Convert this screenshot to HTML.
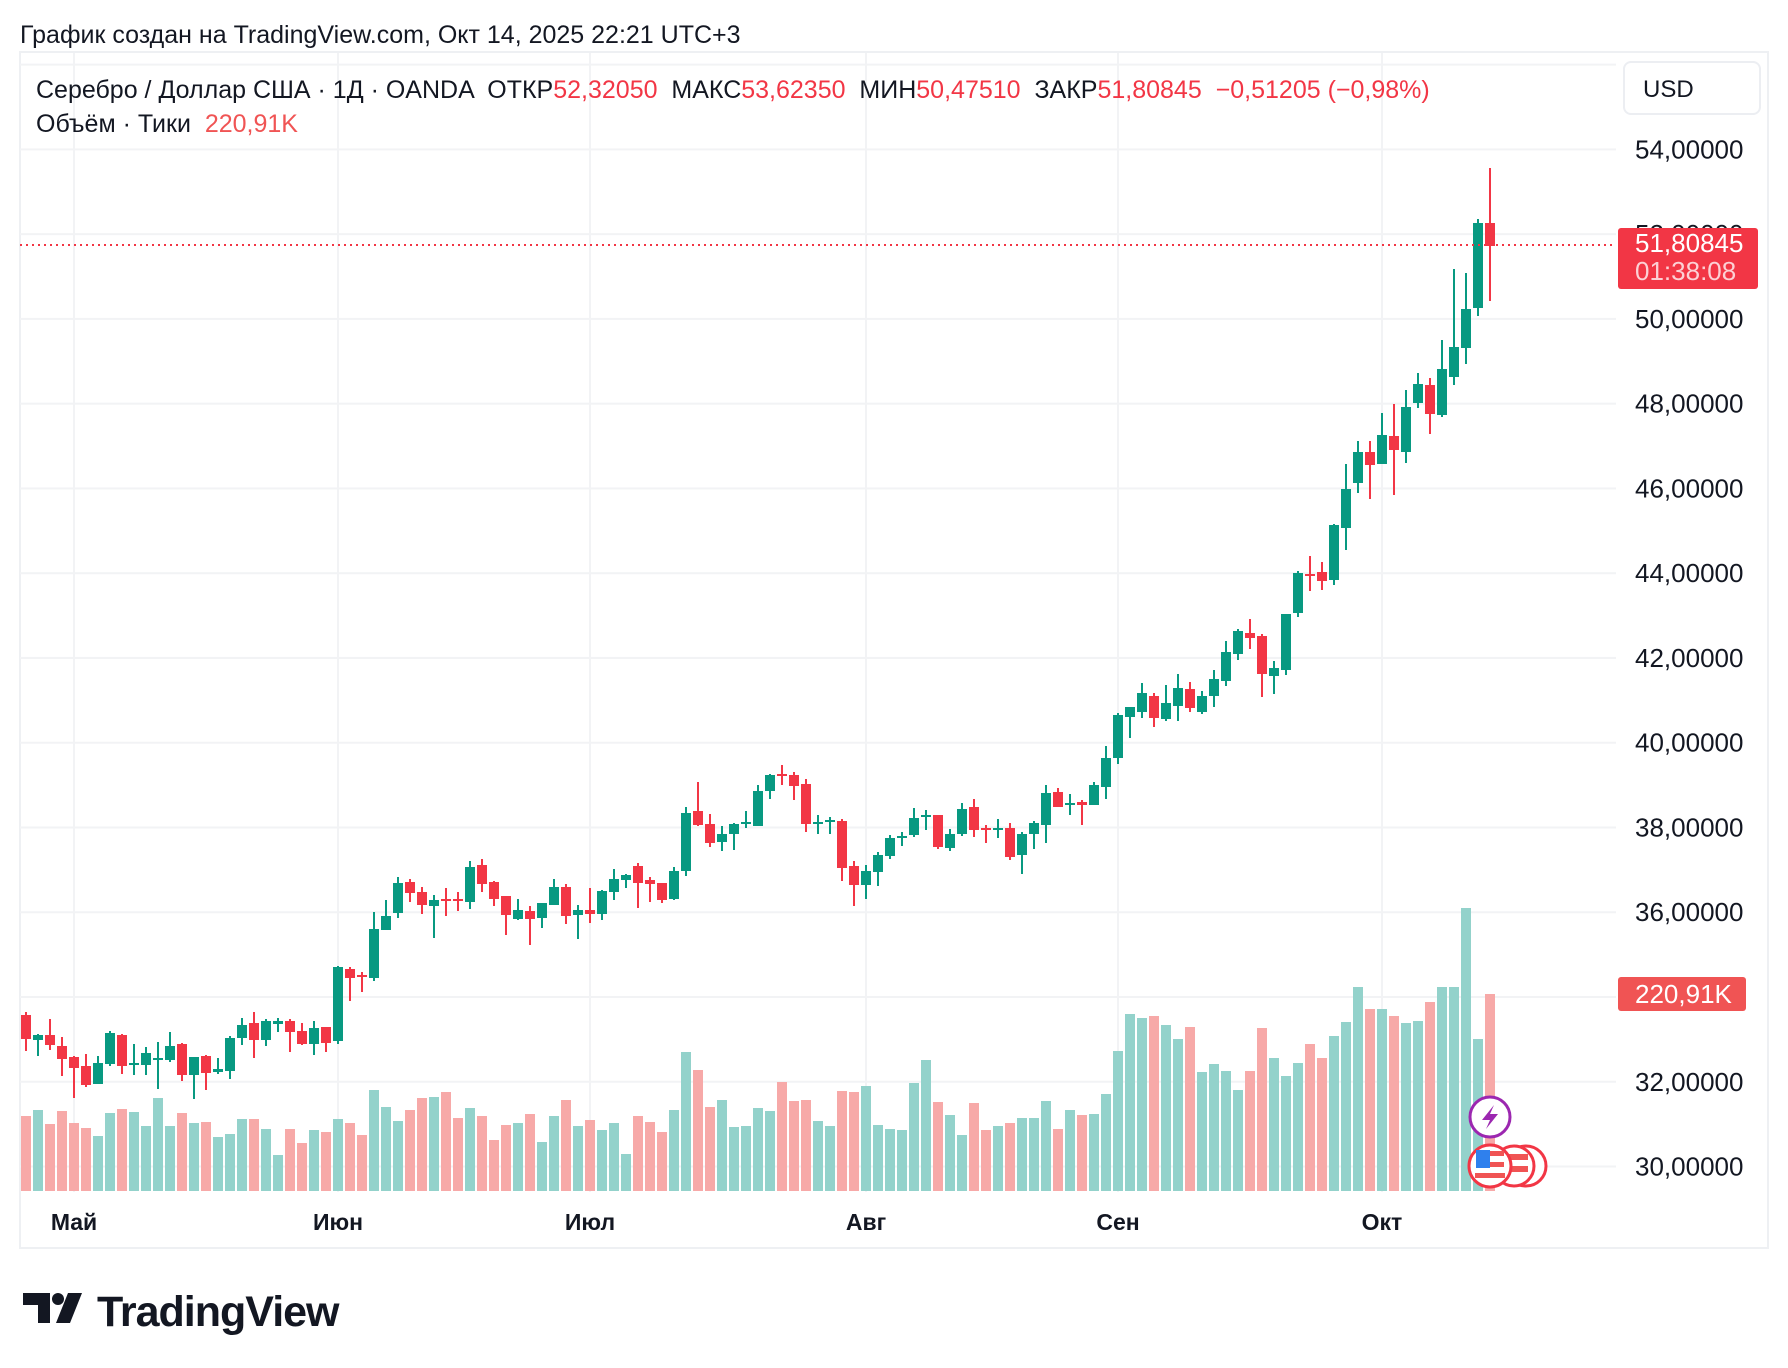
<!DOCTYPE html>
<html><head><meta charset="utf-8"><style>
html,body{margin:0;padding:0;background:#fff}
svg{display:block}
text{font-family:"Liberation Sans",sans-serif;white-space:pre}
</style></head><body>
<svg id="s" xmlns="http://www.w3.org/2000/svg" width="1788" height="1368" viewBox="0 0 1788 1368" xml:space="preserve">
<rect width="1788" height="1368" fill="#fff"/>
<text x="20" y="43" font-size="25" fill="#131722">График создан на TradingView.com, Окт 14, 2025 22:21 UTC+3</text>
<rect x="20" y="52" width="1748" height="1196" fill="none" stroke="#eef0f3" stroke-width="2"/>
<g id="grid"></g>
<g id="vol"></g>
<g id="cdl"></g>
<line x1="20" y1="245" x2="1616" y2="245" stroke="#F23645" stroke-width="2" stroke-dasharray="2 4"/>
<g id="plabels" font-size="26" fill="#131722"></g>
<rect x="1624" y="62" width="136" height="52" rx="7" fill="#fff" stroke="#eceef2" stroke-width="2"/>
<text x="1643" y="97" font-size="24" fill="#131722">USD</text>
<rect x="1618" y="228" width="140" height="61" rx="3" fill="#F23645"/>
<text x="1635" y="252" font-size="26" fill="#fff">51,80845</text>
<text x="1635" y="280" font-size="26" fill="#fcd0d4">01:38:08</text>
<rect x="1618" y="977" width="128" height="34" rx="3" fill="#F05454"/>
<text x="1635" y="1003" font-size="26" fill="#fff">220,91K</text>
<text x="36" y="98" font-size="25" fill="#131722">Серебро / Доллар США · 1Д · OANDA  ОТКР<tspan fill="#F23645">52,32050</tspan>  МАКС<tspan fill="#F23645">53,62350</tspan>  МИН<tspan fill="#F23645">50,47510</tspan>  ЗАКР<tspan fill="#F23645">51,80845</tspan>  <tspan fill="#F23645">−0,51205 (−0,98%)</tspan></text>
<text x="36" y="132" font-size="25" fill="#131722">Объём · Тики  <tspan fill="#F05454">220,91K</tspan></text>
<g font-size="23" font-weight="bold" fill="#131722" text-anchor="middle">
<text x="74" y="1230">Май</text><text x="338" y="1230">Июн</text><text x="590" y="1230">Июл</text>
<text x="866" y="1230">Авг</text><text x="1118" y="1230">Сен</text><text x="1382" y="1230">Окт</text>
</g>
<circle cx="1526" cy="1166" r="20" fill="#fff" stroke="#F23645" stroke-width="3"/>
<circle cx="1514" cy="1166" r="20" fill="#fff" stroke="#F23645" stroke-width="3"/>
<rect x="1500" y="1154" width="28" height="6" fill="#F05454"/><rect x="1500" y="1166" width="28" height="6" fill="#F05454"/>
<circle cx="1490" cy="1166" r="21" fill="#fff" stroke="#F23645" stroke-width="3"/>
<rect x="1476" y="1151" width="28" height="5" fill="#F05454"/><rect x="1476" y="1162" width="28" height="5" fill="#F05454"/><rect x="1475" y="1173" width="30" height="5" fill="#F05454"/>
<rect x="1476" y="1150" width="14" height="18" fill="#2F80ED"/>
<circle cx="1490" cy="1117" r="20" fill="#fff" stroke="#9C27B0" stroke-width="3"/>
<path d="M1494 1105 L1482 1120 L1490 1120 L1486 1129 L1498 1114 L1490 1114 Z" fill="#9C27B0"/>
<path d="M23 1293 H50 V1323 H38 V1305 H23 Z" fill="#131722"/>
<circle cx="58" cy="1299" r="6" fill="#131722"/>
<path d="M68 1293 H82 L70 1323 H56 Z" fill="#131722"/>
<text x="97" y="1326" font-size="43" font-weight="bold" fill="#131722" letter-spacing="-1">TradingView</text>
</svg>
<script>
var D=`r 1015 1039 1012 1051 1116
g 1035 1040 1034 1056 1110
r 1035 1045 1019 1050 1124
r 1046 1059 1037 1076 1111
r 1057 1068 1056 1098 1123
r 1066 1085 1054 1087 1128
g 1063 1084 1056 1084 1136
g 1033 1064 1031 1066 1113
r 1035 1066 1034 1074 1109
g 1063 1065 1044 1075 1112
g 1053 1065 1047 1075 1126
g 1058 1060 1042 1089 1098
g 1046 1060 1032 1062 1126
r 1044 1075 1043 1081 1113
g 1057 1075 1057 1099 1123
r 1056 1073 1055 1090 1122
g 1069 1072 1058 1074 1137
g 1038 1071 1036 1079 1134
g 1025 1038 1018 1045 1119
r 1023 1040 1012 1058 1119
g 1021 1040 1019 1046 1129
g 1021 1024 1018 1032 1155
r 1021 1032 1019 1052 1129
r 1031 1044 1023 1045 1143
g 1028 1044 1021 1055 1130
r 1027 1043 1027 1052 1132
g 967 1041 966 1044 1119
r 969 978 967 1001 1123
r 975 977 972 992 1135
g 929 978 912 981 1090
g 916 930 900 930 1107
g 883 913 877 918 1121
r 882 893 879 902 1110
r 892 905 887 914 1098
g 900 906 895 938 1097
r 899 901 888 916 1092
r 899 901 892 911 1118
g 867 902 861 909 1108
r 865 884 859 892 1116
r 882 899 881 906 1140
r 896 915 896 935 1125
g 910 919 899 920 1123
r 911 919 906 945 1114
g 903 918 903 928 1142
g 887 905 879 905 1116
r 887 916 884 924 1100
g 910 915 905 939 1126
r 910 914 888 923 1120
g 891 914 890 920 1130
g 879 892 869 900 1123
g 875 880 874 888 1154
r 866 883 863 908 1116
r 880 884 877 902 1122
r 883 900 883 903 1132
g 871 899 867 900 1110
g 813 871 807 876 1052
r 811 825 782 826 1070
r 824 843 814 847 1107
g 834 842 826 851 1100
g 824 834 823 850 1127
g 822 824 811 828 1126
g 791 826 785 826 1108
g 775 791 774 799 1111
r 774 776 765 785 1082
r 775 786 772 800 1101
r 784 824 779 832 1100
g 822 824 815 834 1121
g 820 822 817 834 1126
r 821 868 819 881 1091
r 866 885 861 906 1092
g 871 885 865 899 1086
g 855 872 852 886 1125
g 838 856 835 859 1129
g 836 838 832 846 1130
g 818 835 808 837 1083
g 815 817 810 830 1060
r 815 847 815 849 1102
g 834 848 829 851 1115
g 809 834 803 836 1135
r 807 830 799 837 1103
r 828 830 825 843 1130
g 828 830 819 838 1126
r 828 857 823 860 1123
g 834 855 832 874 1118
g 823 834 821 849 1118
g 793 825 785 843 1101
r 792 807 788 807 1129
g 803 805 794 815 1110
r 802 805 800 825 1115
g 785 805 782 805 1114
g 758 787 746 799 1094
g 715 758 713 764 1051
g 707 717 707 738 1014
g 693 712 683 718 1018
r 696 718 693 727 1016
g 703 719 685 721 1025
g 688 706 674 721 1039
r 689 708 682 712 1027
g 696 712 691 714 1072
g 679 696 670 707 1064
g 652 681 641 686 1071
g 631 654 629 660 1090
r 633 638 619 649 1071
r 636 674 634 697 1028
g 668 676 661 694 1058
g 614 670 614 675 1076
g 573 613 571 617 1063
r 574 576 556 591 1044
r 572 581 562 590 1058
g 525 580 524 585 1036
g 489 528 464 550 1022
g 452 483 441 493 987
r 452 465 441 499 1009
g 435 464 413 464 1009
r 436 450 404 495 1016
g 407 452 390 463 1023
g 384 403 373 408 1021
r 385 414 378 434 1002
g 369 415 340 417 987
g 347 377 269 385 987
g 309 348 273 364 908
g 223 308 219 316 1039
r 223 246 168 301 994`;
var NS="http://www.w3.org/2000/svg";
function el(p,t,a){var e=document.createElementNS(NS,t);for(var k in a)e.setAttribute(k,a[k]);p.appendChild(e);return e;}
var grid=document.getElementById('grid'),vol=document.getElementById('vol'),cdl=document.getElementById('cdl'),pl=document.getElementById('plabels');
for(var p=30;p<=56;p+=2){var y=149.4+(54-p)*42.38;el(grid,'rect',{x:20,y:y-1,width:1596,height:2,fill:'#f2f3f5'});
 if(p<=54){var t=el(pl,'text',{x:1635,y:y+9});t.textContent=p+',00000';}}
[4,26,47,70,91,113].forEach(function(i){el(grid,'rect',{x:26+12*i-1,y:53,width:2,height:1139,fill:'#f2f3f5'});});
D.split('\n').forEach(function(l,i){var a=l.trim().split(/\s+/);var c=a[0]=='g';var x=26+12*i;
 var bt=+a[1],bb=+a[2],wt=+a[3],wb=+a[4],v=+a[5];
 el(vol,'rect',{x:x-5,y:v,width:10,height:1191-v,fill:c?'#93d2cb':'#f7a9a8'});
 var col=c?'#089981':'#F23645';
 el(cdl,'rect',{x:x-1,y:wt,width:2,height:wb-wt,fill:col});
 el(cdl,'rect',{x:x-5,y:bt,width:10,height:Math.max(2,bb-bt),fill:col});
});
</script>
</body></html>
